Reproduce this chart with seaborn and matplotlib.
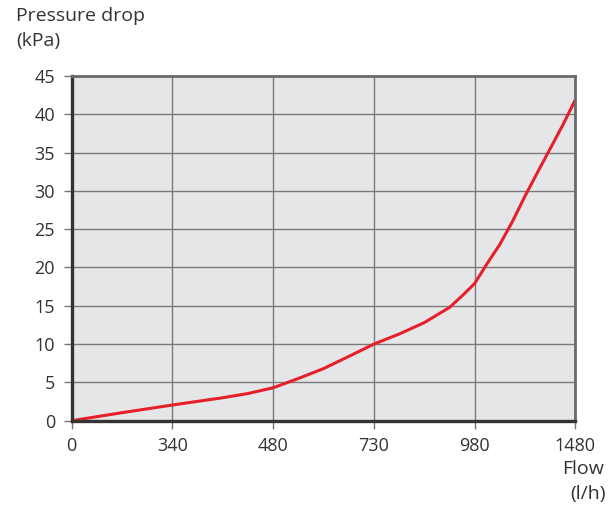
import numpy as np
import seaborn as sns
import matplotlib
matplotlib.use("Agg")
import matplotlib.pyplot as plt

# tick flows are evenly spaced on the chart, not linear
flow_ticks = [0, 340, 480, 730, 980, 1480]
pressure_ticks = [0, 5, 10, 15, 20, 25, 30, 35, 40, 45]

# curve
flow = [0, 170, 340, 410, 445, 480, 542, 605, 668, 730, 792, 855, 918,
        949, 980, 1042, 1105, 1168, 1230, 1292, 1355, 1418, 1480]
pressure = [0, 1.05, 2.05, 3.0, 3.55, 4.3, 5.5, 6.8, 8.4, 10.0, 11.3, 12.8, 14.8,
            16.3, 17.9, 20.5, 23.0, 26.0, 29.3, 32.4, 35.5, 38.6, 41.9]

sns.set_style("ticks")
plt.rcParams["font.family"] = ["Open Sans", "DejaVu Sans"]

tick_pos = np.arange(len(flow_ticks))

def fwd(v):
    return np.interp(v, flow_ticks, tick_pos)

def inv(p):
    return np.interp(p, tick_pos, flow_ticks)

fig = plt.figure(figsize=(6.14, 5.13), dpi=100)
ax = fig.add_axes([0.1168, 0.1799, 0.8202, 0.672])
ax.set_xscale("function", functions=(fwd, inv))

sns.lineplot(x=flow, y=pressure, ax=ax, color="#e5202a", linewidth=2.2)

ax.set_xlim(0, 1480)
ax.set_ylim(0, 45)
ax.set_xticks(flow_ticks)
ax.set_xticklabels([str(v) for v in flow_ticks])
ax.set_yticks(pressure_ticks)
ax.minorticks_off()
ax.set_facecolor("#e5e6e8")
ax.grid(True, color="#7a7a7a", linewidth=1.0)
ax.set_axisbelow(True)

for side in ["left", "bottom"]:
    ax.spines[side].set_color("#333333")
    ax.spines[side].set_linewidth(2.4)
for side in ["top", "right"]:
    ax.spines[side].set_visible(True)
    ax.spines[side].set_color("#6a6a6a")
    ax.spines[side].set_linewidth(2.0)

ax.tick_params(axis="both", length=6, width=1, color="#777777",
               labelsize=13, labelcolor="#333333", pad=6)
ax.set_xlabel("")
ax.set_ylabel("")

fig.text(16 / 614, 1 - 7 / 513, "Pressure drop", ha="left", va="top",
         fontsize=14, color="#333333")
fig.text(16 / 614, 1 - 32 / 513, "(kPa)", ha="left", va="top",
         fontsize=14, color="#333333")
fig.text(604 / 614, 1 - 460 / 513, "Flow", ha="right", va="top",
         fontsize=14, color="#333333")
fig.text(606 / 614, 1 - 485 / 513, "(l/h)", ha="right", va="top",
         fontsize=14, color="#333333")

fig.savefig("out.png", dpi=100)
